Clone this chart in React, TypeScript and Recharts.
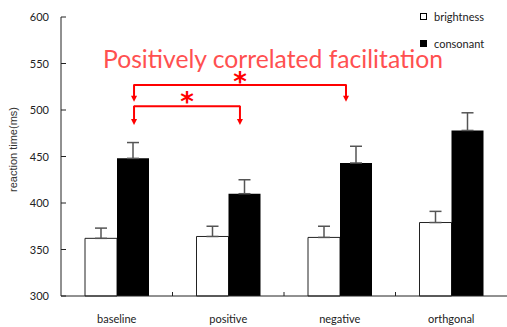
import React from 'react';
import { BarChart, Bar, XAxis, YAxis, ErrorBar, Legend, ReferenceLine, ReferenceDot } from 'recharts';

const conditions = ['baseline', 'positive', 'negative', 'orthgonal'];
const brightness = [362, 364, 363, 379];
const brightnessErr = [11, 11, 12, 12];
const consonant = [448, 410, 443, 478];
const consonantErr = [17, 15, 18, 19];
const yTicks = [300, 350, 400, 450, 500, 550, 600];
const boundaries = [1, 2, 3];

// significance brackets: x in category units (0..4), y in ms
const bracketsX = [[0.655, 2.556], [0.655, 1.605]];
const bracketsY = [[527, 510], [504, 485]];
const stars = [[1.605, 535], [1.13, 514]];

const data = conditions.map((c, i) => ({
  name: c,
  pos: i + 0.5,
  brightness: brightness[i],
  brightnessErr: [0, brightnessErr[i]],
  consonant: consonant[i],
  consonantErr: [0, consonantErr[i]],
}));

const RED = '#ff0000';
const FONT = 'Lato, "Open Sans", sans-serif';

const YTick = ({ x, y, payload }: any) => (
  <g>
    <text x={x} y={y} dy={4} textAnchor="end" fontSize={11} fill="#222" fontFamily={FONT}>
      {payload.value}
    </text>
    <line x1={x + 12} x2={x + 17} y1={y} y2={y} stroke="#222" />
  </g>
);

const YLabel = ({ viewBox }: any) => {
  const cx = viewBox.x + 13;
  const cy = viewBox.y + viewBox.height / 2 - 7;
  return (
    <text x={cx} y={cy} transform={`rotate(-90 ${cx} ${cy})`} textAnchor="middle" dominantBaseline="central"
      fontSize={11} fill="#333" fontFamily='"Liberation Sans", Arial, sans-serif'>
      reaction time(ms)
    </text>
  );
};

const ArrowLine = ({ x1, y1, x2, y2 }: any) => (
  <g>
    <line x1={x1} y1={y1} x2={x2} y2={y2 - 4} stroke={RED} strokeWidth={2} />
    <path d={`M${x2 - 3},${y2 - 5} L${x2 + 3},${y2 - 5} L${x2},${y2 + 1} Z`} fill={RED} />
  </g>
);

const Star = ({ cx, cy }: any) => (
  <text x={cx} y={cy + 14} textAnchor="middle" fontSize={26} fontWeight="bold" fill={RED}
    fontFamily='"DejaVu Sans", sans-serif'>*</text>
);

const LegendBox = ({ payload }: any) => (
  <div style={{ fontFamily: FONT, fontSize: 11, color: '#222' }}>
    {(payload || []).map((p: any) => (
      <div key={p.value} style={{ display: 'flex', alignItems: 'center', height: 27 }}>
        <span style={{ width: 5, height: 5, border: '1px solid #000', background: p.color, marginRight: 7 }} />
        {p.value}
      </div>
    ))}
  </div>
);

export default function App() {
  return (
    <div style={{ position: 'absolute', left: 0, top: 0, width: 507, height: 327, background: '#fff' }}>
      <BarChart width={507} height={327} data={data} margin={{ top: 17, right: 0, bottom: 0, left: 0 }}
        barCategoryGap={24} barGap={0}>
        <XAxis xAxisId="cat" dataKey="name" axisLine={{ stroke: '#222' }} tickLine={false} tickSize={0}
          tickMargin={19} height={31} tick={{ fontSize: 11, fill: '#222', fontFamily: FONT }} />
        <XAxis xAxisId="grid" dataKey="pos" type="number" scale="linear" domain={[0, 4]} allowDataOverflow hide />
        <YAxis domain={[300, 600]} ticks={yTicks} width={61} axisLine={{ stroke: '#222' }} tickLine={false}
          tickSize={0} tickMargin={12} tick={<YTick />} label={<YLabel />} />
        <Legend layout="vertical" align="center" verticalAlign="middle" content={<LegendBox />}
          wrapperStyle={{ left: 420, top: 2.5, width: 'auto' }} />
        <Bar xAxisId="cat" dataKey="brightness" name="brightness" fill="#fff" stroke="#222" strokeWidth={1}
          isAnimationActive={false}>
          <ErrorBar dataKey="brightnessErr" width={6} stroke="#555" strokeWidth={1.5} />
        </Bar>
        <Bar xAxisId="cat" dataKey="consonant" name="consonant" fill="#000" isAnimationActive={false}>
          <ErrorBar dataKey="consonantErr" width={6} stroke="#555" strokeWidth={1.5} />
        </Bar>
        {boundaries.map((b) => (
          <ReferenceLine key={b} xAxisId="grid" segment={[{ x: b, y: 300 }, { x: b, y: 304.3 }]} stroke="#222" />
        ))}
        {bracketsX.map((bx, i) => (
          <ReferenceLine key={`h${i}`} xAxisId="grid"
            segment={[{ x: bx[0], y: bracketsY[i][0] }, { x: bx[1], y: bracketsY[i][0] }]}
            stroke={RED} strokeWidth={2} />
        ))}
        {bracketsX.map((bx, i) =>
          bx.map((x, j) => (
            <ReferenceLine key={`v${i}${j}`} xAxisId="grid"
              segment={[{ x, y: bracketsY[i][0] + 0.6 }, { x, y: bracketsY[i][1] }]}
              shape={<ArrowLine />} />
          ))
        )}
        {stars.map((s, i) => (
          <ReferenceDot key={`s${i}`} xAxisId="grid" x={s[0]} y={s[1]} r={0} shape={<Star />} />
        ))}
      </BarChart>
      <svg width={507} height={327} style={{ position: 'absolute', left: 0, top: 0, pointerEvents: 'none' }}>
        <text x={103} y={68} fontSize={25} fill="#ff5050" fontFamily={FONT} textLength={340}
          lengthAdjust="spacingAndGlyphs">
          Positively correlated facilitation
        </text>
      </svg>
    </div>
  );
}
